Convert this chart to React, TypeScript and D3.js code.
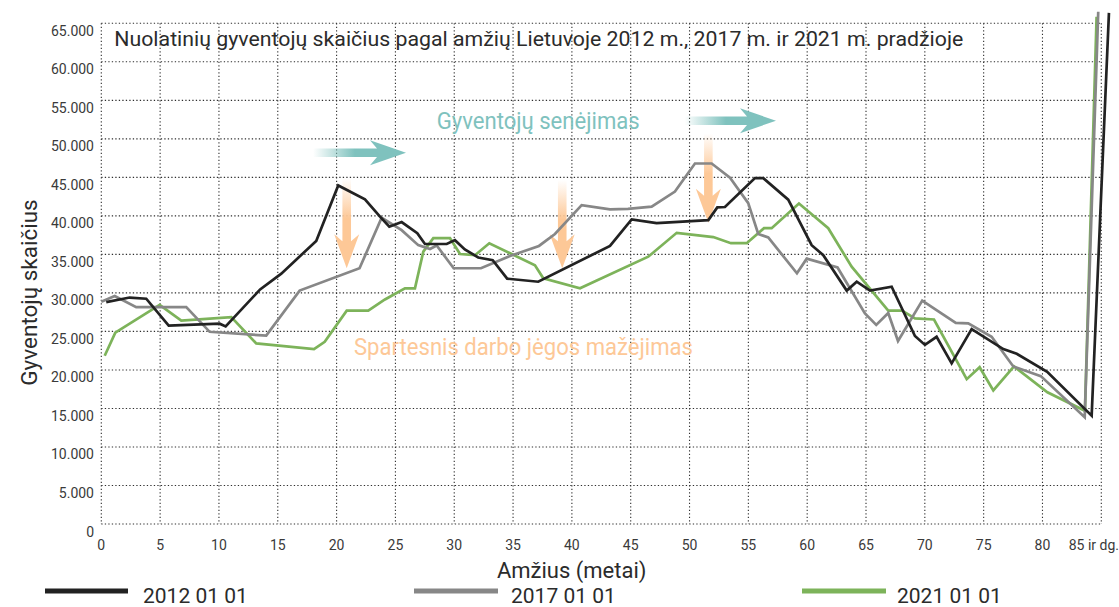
import React from "react";
import * as d3 from "d3";

const W = 1119;
const H = 607;

// ---------- data (age in years, population count) ----------
const ages2012 = [0.42, 2.41, 3.82, 5.73, 10.06, 10.57, 13.5, 15.3, 18.27, 20.14, 22.41, 23.69, 24.48, 25.53, 26.86, 27.51, 29.36, 30.06, 30.9, 32.04, 33.27, 34.5, 37.14, 43.24, 45.08, 47.2, 51.6, 52.36, 53.01, 55.56, 56.27, 58.39, 60.38, 61.37, 63.36, 64.21, 65.34, 67.18, 69.16, 70.01, 71.0, 72.28, 73.98, 76.67, 77.81, 80.4, 84.18, 85.65];
const values2012 = [28800, 29400, 29250, 25750, 26000, 25650, 30450, 32500, 36750, 43950, 42150, 39900, 38600, 39200, 37750, 36350, 36350, 36850, 35650, 34600, 34250, 31850, 31450, 36100, 39550, 39050, 39450, 41100, 41150, 44900, 44900, 42100, 36200, 34900, 30300, 31450, 30300, 30800, 24400, 23250, 24300, 20850, 25300, 22700, 22100, 19750, 14050, 66350];

const ages2017 = [0, 1.14, 2.97, 7.22, 9.21, 14.02, 16.86, 21.95, 23.83, 25.53, 26.94, 27.94, 28.51, 29.95, 32.27, 34.74, 37.2, 38.56, 40.83, 43.24, 44.77, 46.78, 48.76, 50.46, 51.88, 53.44, 54.99, 55.84, 56.69, 59.13, 59.96, 62.58, 64.91, 65.87, 66.89, 67.72, 69.78, 72.63, 73.69, 75.68, 77.52, 79.86, 83.59, 84.74];
const values2017 = [28850, 29600, 28150, 28150, 24950, 24450, 30300, 33200, 39750, 38150, 36200, 35700, 36150, 33200, 33200, 34800, 36100, 37650, 41400, 40850, 40900, 41200, 43150, 46800, 46800, 44950, 41650, 37650, 37200, 32550, 34450, 33300, 27350, 25850, 27400, 23750, 29000, 26100, 26050, 24300, 20450, 19200, 13850, 66500];

const ages2021 = [0.29, 1.19, 4.96, 6.8, 11.05, 13.17, 18.08, 18.99, 20.86, 22.69, 24.11, 25.81, 26.66, 27.37, 28.22, 29.64, 30.49, 31.76, 32.98, 34.88, 36.86, 37.57, 40.69, 46.49, 48.91, 52.02, 53.52, 54.86, 56.33, 56.98, 59.3, 61.79, 63.78, 66.89, 68.06, 69.16, 70.78, 73.56, 74.66, 75.82, 77.58, 80.42, 83.61, 84.6];
const values2021 = [21850, 24850, 28450, 26400, 26850, 23450, 22700, 23650, 27700, 27700, 29150, 30600, 30600, 35350, 37100, 37100, 35050, 34900, 36450, 35050, 33600, 31900, 30600, 34700, 37800, 37250, 36450, 36450, 38400, 38400, 41600, 38400, 33400, 27700, 27700, 26700, 26550, 18800, 20350, 17350, 20450, 17100, 14700, 65850];

const xTickValues = [0, 5, 10, 15, 20, 25, 30, 35, 40, 45, 50, 55, 60, 65, 70, 75, 80, 85];
const xTickLabels = ["0", "5", "10", "15", "20", "25", "30", "35", "40", "45", "50", "55", "60", "65", "70", "75", "80", "85 ir dg."];
const yTickValues = [0, 5000, 10000, 15000, 20000, 25000, 30000, 35000, 40000, 45000, 50000, 55000, 60000, 65000];

const titleText = "Nuolatinių gyventojų skaičius pagal amžių Lietuvoje 2012 m., 2017 m. ir 2021 m. pradžioje";
const xTitle = "Amžius (metai)";
const yTitle = "Gyventojų skaičius";
const agingText = "Gyventojų senėjimas";
const laborText = "Spartesnis darbo jėgos mažėjimas";

// annotation arrows in data units
const tealArrows = [
  { fromAge: 18.0, toAge: 25.9, value: 48200 },
  { fromAge: 49.6, toAge: 57.35, value: 52350 },
];
const peachArrows = [
  { age: 20.86, fromValue: 44900, toValue: 33200 },
  { age: 39.18, fromValue: 44650, toValue: 33200 },
  { age: 51.6, fromValue: 50700, toValue: 39100 },
];

const seriesList = [
  { label: "2021 01 01", ages: ages2021, values: values2021, color: "#7db35a" },
  { label: "2017 01 01", ages: ages2017, values: values2017, color: "#878787" },
  { label: "2012 01 01", ages: ages2012, values: values2012, color: "#222222" },
];
const legendOrder = ["2012 01 01", "2017 01 01", "2021 01 01"];

const FONT = "Roboto, 'Noto Sans', sans-serif";
const TEAL = "#7fc2be";
const PEACH = "#fdc897";

export default function App() {
  const x = d3.scaleLinear().domain([0, 85]).range([101.3, 1101.3]);
  const y = d3.scaleLinear().domain([0, 65000]).range([524, 23.3]);
  const fmt = d3.formatLocale({ decimal: ",", thousands: ".", grouping: [3], currency: ["", ""] }).format(",");

  const lineFor = (ages: number[], values: number[]) =>
    d3.line<number>().x((_, i) => x(ages[i])).y((v) => y(v))(values) || "";

  const legendPos = [
    { lx1: 45, lx2: 128, tx: 143 },
    { lx1: 414, lx2: 498, tx: 511 },
    { lx1: 802, lx2: 886, tx: 897 },
  ];

  const hArrow = (x0: number, x1: number, yc: number) => {
    const sw = 4.3, hl = 36, hh = 12.5, notch = 7;
    return `M${x0},${yc - sw} L${x1 - hl + notch},${yc - sw} L${x1 - hl},${yc - hh} L${x1},${yc} L${x1 - hl},${yc + hh} L${x1 - hl + notch},${yc + sw} L${x0},${yc + sw} Z`;
  };
  const vArrow = (xc: number, y0: number, y1: number) => {
    const sw = 4.3, hl = 34, hw = 12.5, notch = 7;
    return `M${xc - sw},${y0} L${xc - sw},${y1 - hl + notch} L${xc - hw},${y1 - hl} L${xc},${y1} L${xc + hw},${y1 - hl} L${xc + sw},${y1 - hl + notch} L${xc + sw},${y0} Z`;
  };

  return (
    <div style={{ position: "absolute", left: 0, top: 0 }}>
      <svg width={W} height={H} style={{ display: "block", background: "#fff" }}>
        <defs>
          <linearGradient id="tealGrad" x1="0" y1="0" x2="1" y2="0">
            <stop offset="0" stopColor={TEAL} stopOpacity={0} />
            <stop offset="0.45" stopColor={TEAL} stopOpacity={1} />
            <stop offset="1" stopColor={TEAL} stopOpacity={1} />
          </linearGradient>
          <linearGradient id="peachGrad" x1="0" y1="0" x2="0" y2="1">
            <stop offset="0" stopColor={PEACH} stopOpacity={0} />
            <stop offset="0.45" stopColor={PEACH} stopOpacity={1} />
            <stop offset="1" stopColor={PEACH} stopOpacity={1} />
          </linearGradient>
        </defs>

        {/* grid */}
        <g stroke="#2e2e2e" strokeWidth={1.1} strokeDasharray="1.3,2.2">
          {yTickValues.map((v) => (
            <line key={"h" + v} x1={x(0)} x2={x(85)} y1={y(v)} y2={y(v)} />
          ))}
          {xTickValues.map((a) => (
            <line key={"v" + a} x1={x(a)} x2={x(a)} y1={y(65000)} y2={y(0)} />
          ))}
        </g>

        {/* y tick labels */}
        <g fontFamily={FONT} fontSize={14} fill="#3a3a3a" textAnchor="end">
          {yTickValues.map((v) => (
            <text key={"yl" + v} x={94} y={y(v) + 12.5}>
              {fmt(v)}
            </text>
          ))}
        </g>
        {/* x tick labels */}
        <g fontFamily={FONT} fontSize={14} fill="#3a3a3a">
          {xTickValues.map((a, i) => (
            <text
              key={"xl" + a}
              x={i === xTickValues.length - 1 ? 1119 : x(a)}
              y={549.5}
              textAnchor={i === xTickValues.length - 1 ? "end" : "middle"}
            >
              {xTickLabels[i]}
            </text>
          ))}
        </g>

        {/* title */}
        <text x={114.3} y={45.7} fontFamily={FONT} fontSize={21} fill="#2b2b2b" textLength={849} lengthAdjust="spacingAndGlyphs">
          {titleText}
        </text>

        {/* axis titles */}
        <text x={571.7} y={578} fontFamily={FONT} fontSize={22} fill="#2b2b2b" textAnchor="middle">
          {xTitle}
        </text>
        <text
          transform={`translate(37,292.5) rotate(-90)`}
          fontFamily={FONT}
          fontSize={22.5}
          fill="#2b2b2b"
          textAnchor="middle"
        >
          {yTitle}
        </text>

        {/* annotation arrows */}
        {tealArrows.map((a, i) => (
          <path key={"ta" + i} d={hArrow(x(a.fromAge), x(a.toAge), y(a.value))} fill="url(#tealGrad)" />
        ))}
        {peachArrows.map((a, i) => (
          <path key={"pa" + i} d={vArrow(x(a.age), y(a.fromValue), y(a.toValue))} fill="url(#peachGrad)" />
        ))}

        {/* series lines */}
        {seriesList.map((s) => (
          <path key={s.label} d={lineFor(s.ages, s.values)} fill="none" stroke={s.color} strokeWidth={2.7} />
        ))}

        {/* annotation texts */}
        <text x={436.7} y={128.5} fontFamily={FONT} fontSize={23} fill={TEAL} textLength={203} lengthAdjust="spacingAndGlyphs">
          {agingText}
        </text>
        <text x={354} y={354.5} fontFamily={FONT} fontSize={23} fill={PEACH} textLength={339} lengthAdjust="spacingAndGlyphs">
          {laborText}
        </text>

        {/* legend */}
        {legendOrder.map((lab, i) => {
          const s = seriesList.find((d) => d.label === lab)!;
          const p = legendPos[i];
          return (
            <g key={"lg" + lab}>
              <line x1={p.lx1} x2={p.lx2} y1={591} y2={591} stroke={s.color} strokeWidth={5} />
              <text x={p.tx} y={602.5} fontFamily={FONT} fontSize={21} fill="#2b2b2b">
                {lab}
              </text>
            </g>
          );
        })}
      </svg>
    </div>
  );
}
